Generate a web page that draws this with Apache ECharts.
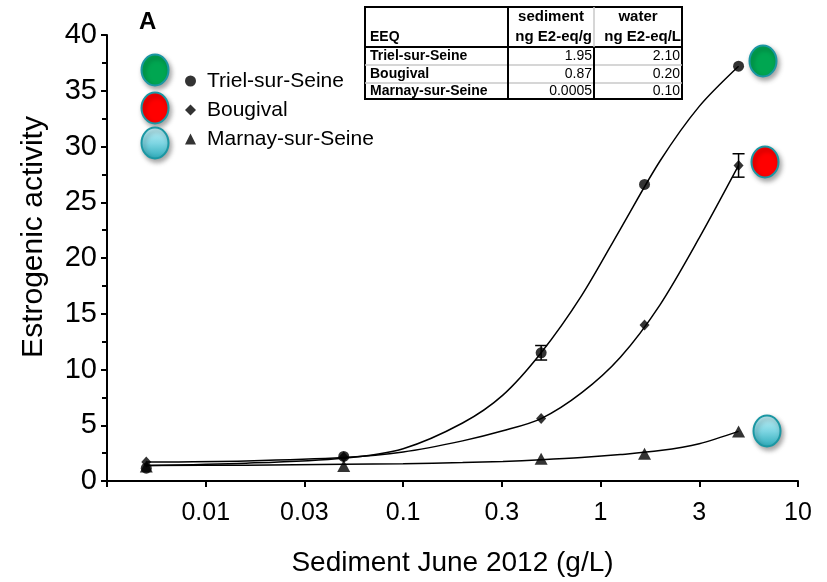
<!DOCTYPE html>
<html>
<head>
<meta charset="utf-8">
<script src="https://cdn.jsdelivr.net/npm/echarts@6/dist/echarts.min.js"></script>
<style>
  html, body { margin: 0; padding: 0; background: #fff; }
  #chart { width: 827px; height: 582px; }
</style>
</head>
<body>
<div id="chart"></div>
<script>
// sediment dilutions (g/L)
const conc = [0.005, 0.05, 0.5, 1.67, 5]
const triel = [1.15, 2.2, 11.5, 26.6, 37.2]
const bougival = [1.7, 2.15, 5.6, 14.0, 28.3]
const marnay = [1.3, 1.35, 2.0, 2.45, 4.45]
const trielErr = [0, 0, 0.65, 0, 0]
const bougivalErr = [0, 0, 0, 0, 1.05]

// fitted curves
const fitConc = [0.005, 0.016, 0.05, 0.1, 0.2, 0.32, 0.5, 0.8, 1.26, 2.0, 3.16, 5]
const trielFit = [1.4, 1.6, 2.05, 2.9, 5.2, 7.7, 11.5, 16.6, 22.6, 28.7, 33.6, 37.2]
const bougivalFit = [1.7, 1.8, 2.1, 2.6, 3.6, 4.5, 5.6, 7.9, 11.1, 15.8, 21.8, 28.3]
const marnayFit = [1.4, 1.42, 1.5, 1.55, 1.65, 1.75, 1.9, 2.1, 2.37, 2.73, 3.35, 4.45]

const xTicks = ['0.01', '0.03', '0.1', '0.3', '1', '3', '10']
const sites = ['Triel-sur-Seine', 'Bougival', 'Marnay-sur-Seine']

// EEQ table
const tableHead = ['EEQ', 'sediment', 'water']
const tableUnits = ['ng E2-eq/g', 'ng E2-eq/L']
const sedimentEEQ = ['1.95', '0.87', '0.0005']
const waterEEQ = ['2.10', '0.20', '0.10']

const FONT = '"Liberation Sans", Arial, sans-serif'
const lg = v => Math.log10(v)

function pts(xs, ys) {
  return xs.map((x, i) => [lg(x), ys[i]])
}
function errData(ys, errs) {
  const out = []
  errs.forEach((e, i) => {
    if (e > 0) out.push([lg(conc[i]), ys[i] - e, ys[i] + e])
  })
  return out
}

function oval(cx, cy, fill) {
  return {
    type: 'ellipse',
    shape: { cx: cx, cy: cy, rx: 13.5, ry: 15.5 },
    style: {
      fill: fill, stroke: '#1b97a3', lineWidth: 2,
      shadowBlur: 5, shadowOffsetX: 2, shadowOffsetY: 3, shadowColor: 'rgba(0,0,0,0.35)'
    },
    z: 10
  }
}
const cyan = new echarts.graphic.LinearGradient(0, 0, 0, 1, [
  { offset: 0, color: '#c6f1f7' },
  { offset: 0.5, color: '#7fd6e3' },
  { offset: 1, color: '#2aa9b8' }
])

// table graphic
function buildTable() {
  const L = 365, R = 682, T = 7, B = 99
  const c1 = 508, c2 = 594
  const rows = [47, 65, 83]
  const els = []
  const line = (x1, y1, x2, y2, color, w) => els.push({
    type: 'line', shape: { x1, y1, x2, y2 }, style: { stroke: color, lineWidth: w }, z: 20
  })
  els.push({ type: 'rect', shape: { x: L, y: T, width: R - L, height: B - T },
    style: { fill: '#fff', stroke: '#000', lineWidth: 2 }, z: 19 })
  line(L, rows[0], R, rows[0], '#000', 2)
  line(L, rows[1], R, rows[1], '#c8c8c8', 1.5)
  line(L, rows[2], R, rows[2], '#c8c8c8', 1.5)
  line(c1, T, c1, B, '#000', 2)
  line(c2, T, c2, rows[0], '#c8c8c8', 1.5)
  line(c2, rows[0], c2, B, '#000', 2)
  const txt = (x, y, s, align, bold, size) => els.push({
    type: 'text', x: x, y: y, z: 21,
    style: { text: s, fill: '#000', font: (bold ? 'bold ' : '') + (size || 14) + 'px ' + FONT, textAlign: align, textVerticalAlign: 'middle' }
  })
  txt(370, 37, tableHead[0], 'left', true)
  txt((c1 + c2) / 2, 17, tableHead[1], 'center', true, 15)
  txt((c2 + R) / 2, 17, tableHead[2], 'center', true, 15)
  txt(c2 - 2, 37, tableUnits[0], 'right', true, 15)
  txt(R - 1, 37, tableUnits[1], 'right', true, 15)
  const ys = [56, 74, 91.5]
  sites.forEach((s, i) => {
    txt(370, ys[i], s, 'left', true)
    txt(c2 - 2, ys[i], sedimentEEQ[i], 'right', false)
    txt(R - 2, ys[i], waterEEQ[i], 'right', false)
  })
  return els
}

const errSeries = (ys, errs) => ({
  type: 'custom',
  data: errData(ys, errs),
  z: 3,
  renderItem: function (params, api) {
    const x = api.value(0)
    const lo = api.coord([x, api.value(1)])
    const hi = api.coord([x, api.value(2)])
    const w = 6
    const st = { stroke: '#000', lineWidth: 1.5 }
    return {
      type: 'group',
      children: [
        { type: 'line', shape: { x1: lo[0], y1: lo[1], x2: hi[0], y2: hi[1] }, style: st },
        { type: 'line', shape: { x1: lo[0] - w, y1: lo[1], x2: lo[0] + w, y2: lo[1] }, style: st },
        { type: 'line', shape: { x1: hi[0] - w, y1: hi[1], x2: hi[0] + w, y2: hi[1] }, style: st }
      ]
    }
  }
})

const fitSeries = ys => ({
  type: 'line',
  data: pts(fitConc, ys),
  smooth: 0.3,
  showSymbol: false,
  symbol: 'none',
  lineStyle: { color: '#000', width: 1.5 },
  z: 2,
  silent: true
})

const chart = echarts.init(document.getElementById('chart'), null, { renderer: 'canvas' })
const option = {
  animation: false,
  backgroundColor: '#fff',
  textStyle: { fontFamily: FONT },
  grid: { left: 107, right: 29, top: 35, bottom: 95, containLabel: false },
  legend: {
    orient: 'vertical',
    left: 180,
    top: 65,
    itemGap: 7,
    itemWidth: 11,
    itemHeight: 11,
    selectedMode: false,
    textStyle: { fontSize: 21, color: '#000', fontFamily: FONT, lineHeight: 22, padding: [0, 0, 0, 6] },
    data: [
      { name: sites[0], icon: 'circle' },
      { name: sites[1], icon: 'diamond' },
      { name: sites[2], icon: 'triangle' }
    ]
  },
  xAxis: {
    type: 'value',
    min: -2.5,
    max: 1,
    interval: 0.5,
    name: 'Sediment June 2012 (g/L)',
    nameLocation: 'middle',
    nameGap: 68,
    nameTextStyle: { fontSize: 28, color: '#000', fontFamily: FONT },
    axisLine: { onZero: false, lineStyle: { color: '#000', width: 2 } },
    axisTick: { show: true, length: 6, lineStyle: { color: '#000', width: 2 } },
    axisLabel: {
      fontSize: 25, color: '#000', margin: 20, fontFamily: FONT,
      formatter: v => {
        const i = Math.round((v + 2) / 0.5)
        return xTicks[i] !== undefined ? xTicks[i] : ''
      }
    },
    splitLine: { show: false }
  },
  yAxis: {
    type: 'value',
    min: 0,
    max: 40,
    interval: 5,
    name: 'Estrogenic activity',
    nameLocation: 'middle',
    nameGap: 58,
    nameTextStyle: { fontSize: 30, color: '#000', fontFamily: FONT, padding: [0, 0, 0, 42] },
    axisLine: { show: true, onZero: false, lineStyle: { color: '#000', width: 2 } },
    axisTick: { show: true, length: 6, lineStyle: { color: '#000', width: 2 } },
    minorTick: { show: true, splitNumber: 2, length: 5, lineStyle: { color: '#000', width: 2 } },
    axisLabel: { fontSize: 29, color: '#000', margin: 10, fontFamily: FONT },
    splitLine: { show: false }
  },
  series: [
    fitSeries(trielFit),
    fitSeries(bougivalFit),
    fitSeries(marnayFit),
    errSeries(triel, trielErr),
    errSeries(bougival, bougivalErr),
    {
      name: sites[2], type: 'scatter', data: pts(conc, marnay),
      symbol: 'triangle', symbolSize: [13, 12], itemStyle: { color: '#000' }, z: 4
    },
    {
      name: sites[1], type: 'scatter', data: pts(conc, bougival),
      symbol: 'diamond', symbolSize: [10, 11], itemStyle: { color: '#000' }, z: 5
    },
    {
      name: sites[0], type: 'scatter', data: pts(conc, triel),
      symbol: 'circle', symbolSize: 11, itemStyle: { color: '#000' }, z: 6
    }
  ],
  graphic: [
    { type: 'text', x: 139, y: 10, z: 10,
      style: { text: 'A', fill: '#000', font: 'bold 24px ' + FONT } },
    oval(155, 70, '#00a651'),
    oval(155, 108, '#ff0000'),
    oval(155, 143, cyan),
    oval(763, 61, '#00a651'),
    oval(765, 162, '#ff0000'),
    oval(767, 431, cyan)
  ].concat(buildTable())
}
chart.setOption(option)
</script>
</body>
</html>
